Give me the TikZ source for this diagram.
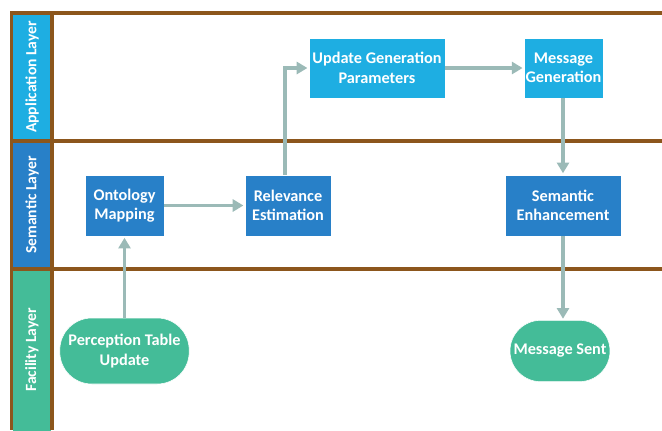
\documentclass[tikz,border=0pt]{standalone}
\usepackage{fontspec}
\setmainfont{Carlito}
\usetikzlibrary{arrows.meta,positioning}
\definecolor{appblue}{RGB}{30,174,226}
\definecolor{semblue}{RGB}{40,128,200}
\definecolor{facgreen}{RGB}{68,188,152}
\definecolor{lanebrown}{RGB}{140,86,28}
\definecolor{flowgray}{RGB}{155,186,183}
\begin{document}
\begin{tikzpicture}[x=0.75pt,y=-0.75pt,
    lanelabel/.style={rotate=90,inner sep=0pt,text=white,
      font=\fontsize{11.7}{13}\selectfont\bfseries,minimum height=29pt},
    lane/.style={draw=lanebrown,line width=2.4pt},
    box/.style={text=white,align=center,inner sep=0pt,
      font=\fontsize{12.2}{14.5}\selectfont\bfseries,draw=white,line width=0.4pt},
    term/.style={box,fill=facgreen,rounded corners=23pt},
    flow/.style={draw=flowgray,line width=2.3pt,
      -{Triangle[length=8pt,width=9pt]},shorten >=1pt}]
  \useasboundingbox (0,0) rectangle (662,430);
  % lane labels
  \node[lanelabel,fill=appblue,minimum width=96pt] (app) at (32,77) {Application Layer};
  \node[lanelabel,fill=semblue,minimum width=96pt] (sem) at (32,205) {Semantic Layer};
  \node[lanelabel,fill=facgreen,minimum width=122pt] (fac) at (32,350) {Facility Layer};
  % lane lines
  \draw[lane] (10,13) -- (662,13);
  \draw[lane] (10,141) -- (662,141);
  \draw[lane] (10,269) -- (662,269);
  \draw[lane] (11.5,12) -- (11.5,430);
  \draw[lane] (52,12) -- (52,430);
  % steps
  \node[box,fill=appblue,minimum width=102pt,minimum height=45pt] (ugp) at (377,68)
    {Update Generation\\Parameters};
  \node[box,fill=appblue,minimum width=59pt,minimum height=45pt] (mg) at (563.5,68)
    {Message\\Generation};
  \node[box,fill=semblue,minimum width=59pt,minimum height=46pt] (om) at (124.5,205.5)
    {Ontology\\Mapping};
  \node[box,fill=semblue,minimum width=64.5pt,minimum height=46pt] (re) at (288,205.5)
    {Relevance\\Estimation};
  \node[box,fill=semblue,minimum width=87pt,minimum height=46pt] (se) at (563,205.5)
    {Semantic\\Enhancement};
  \node[term,minimum width=97pt,minimum height=49.5pt,rounded corners=24pt] (ptu) at (124.5,351)
    {Perception Table\\Update};
  \node[term,minimum width=75pt,minimum height=46pt] (ms) at (560,351) {Message Sent};
  % flow
  \draw[flow] (ptu) -- (om);
  \draw[flow] (om) -- (re);
  \draw[flow] (re.north -| 285,0) |- (ugp.west);
  \draw[flow] (ugp) -- (mg);
  \draw[flow] (mg.south -| 563,0) -- (se.north -| 563,0);
  \draw[flow] (se.south -| 563,0) -- (ms.north -| 563,0);
\end{tikzpicture}
\end{document}
